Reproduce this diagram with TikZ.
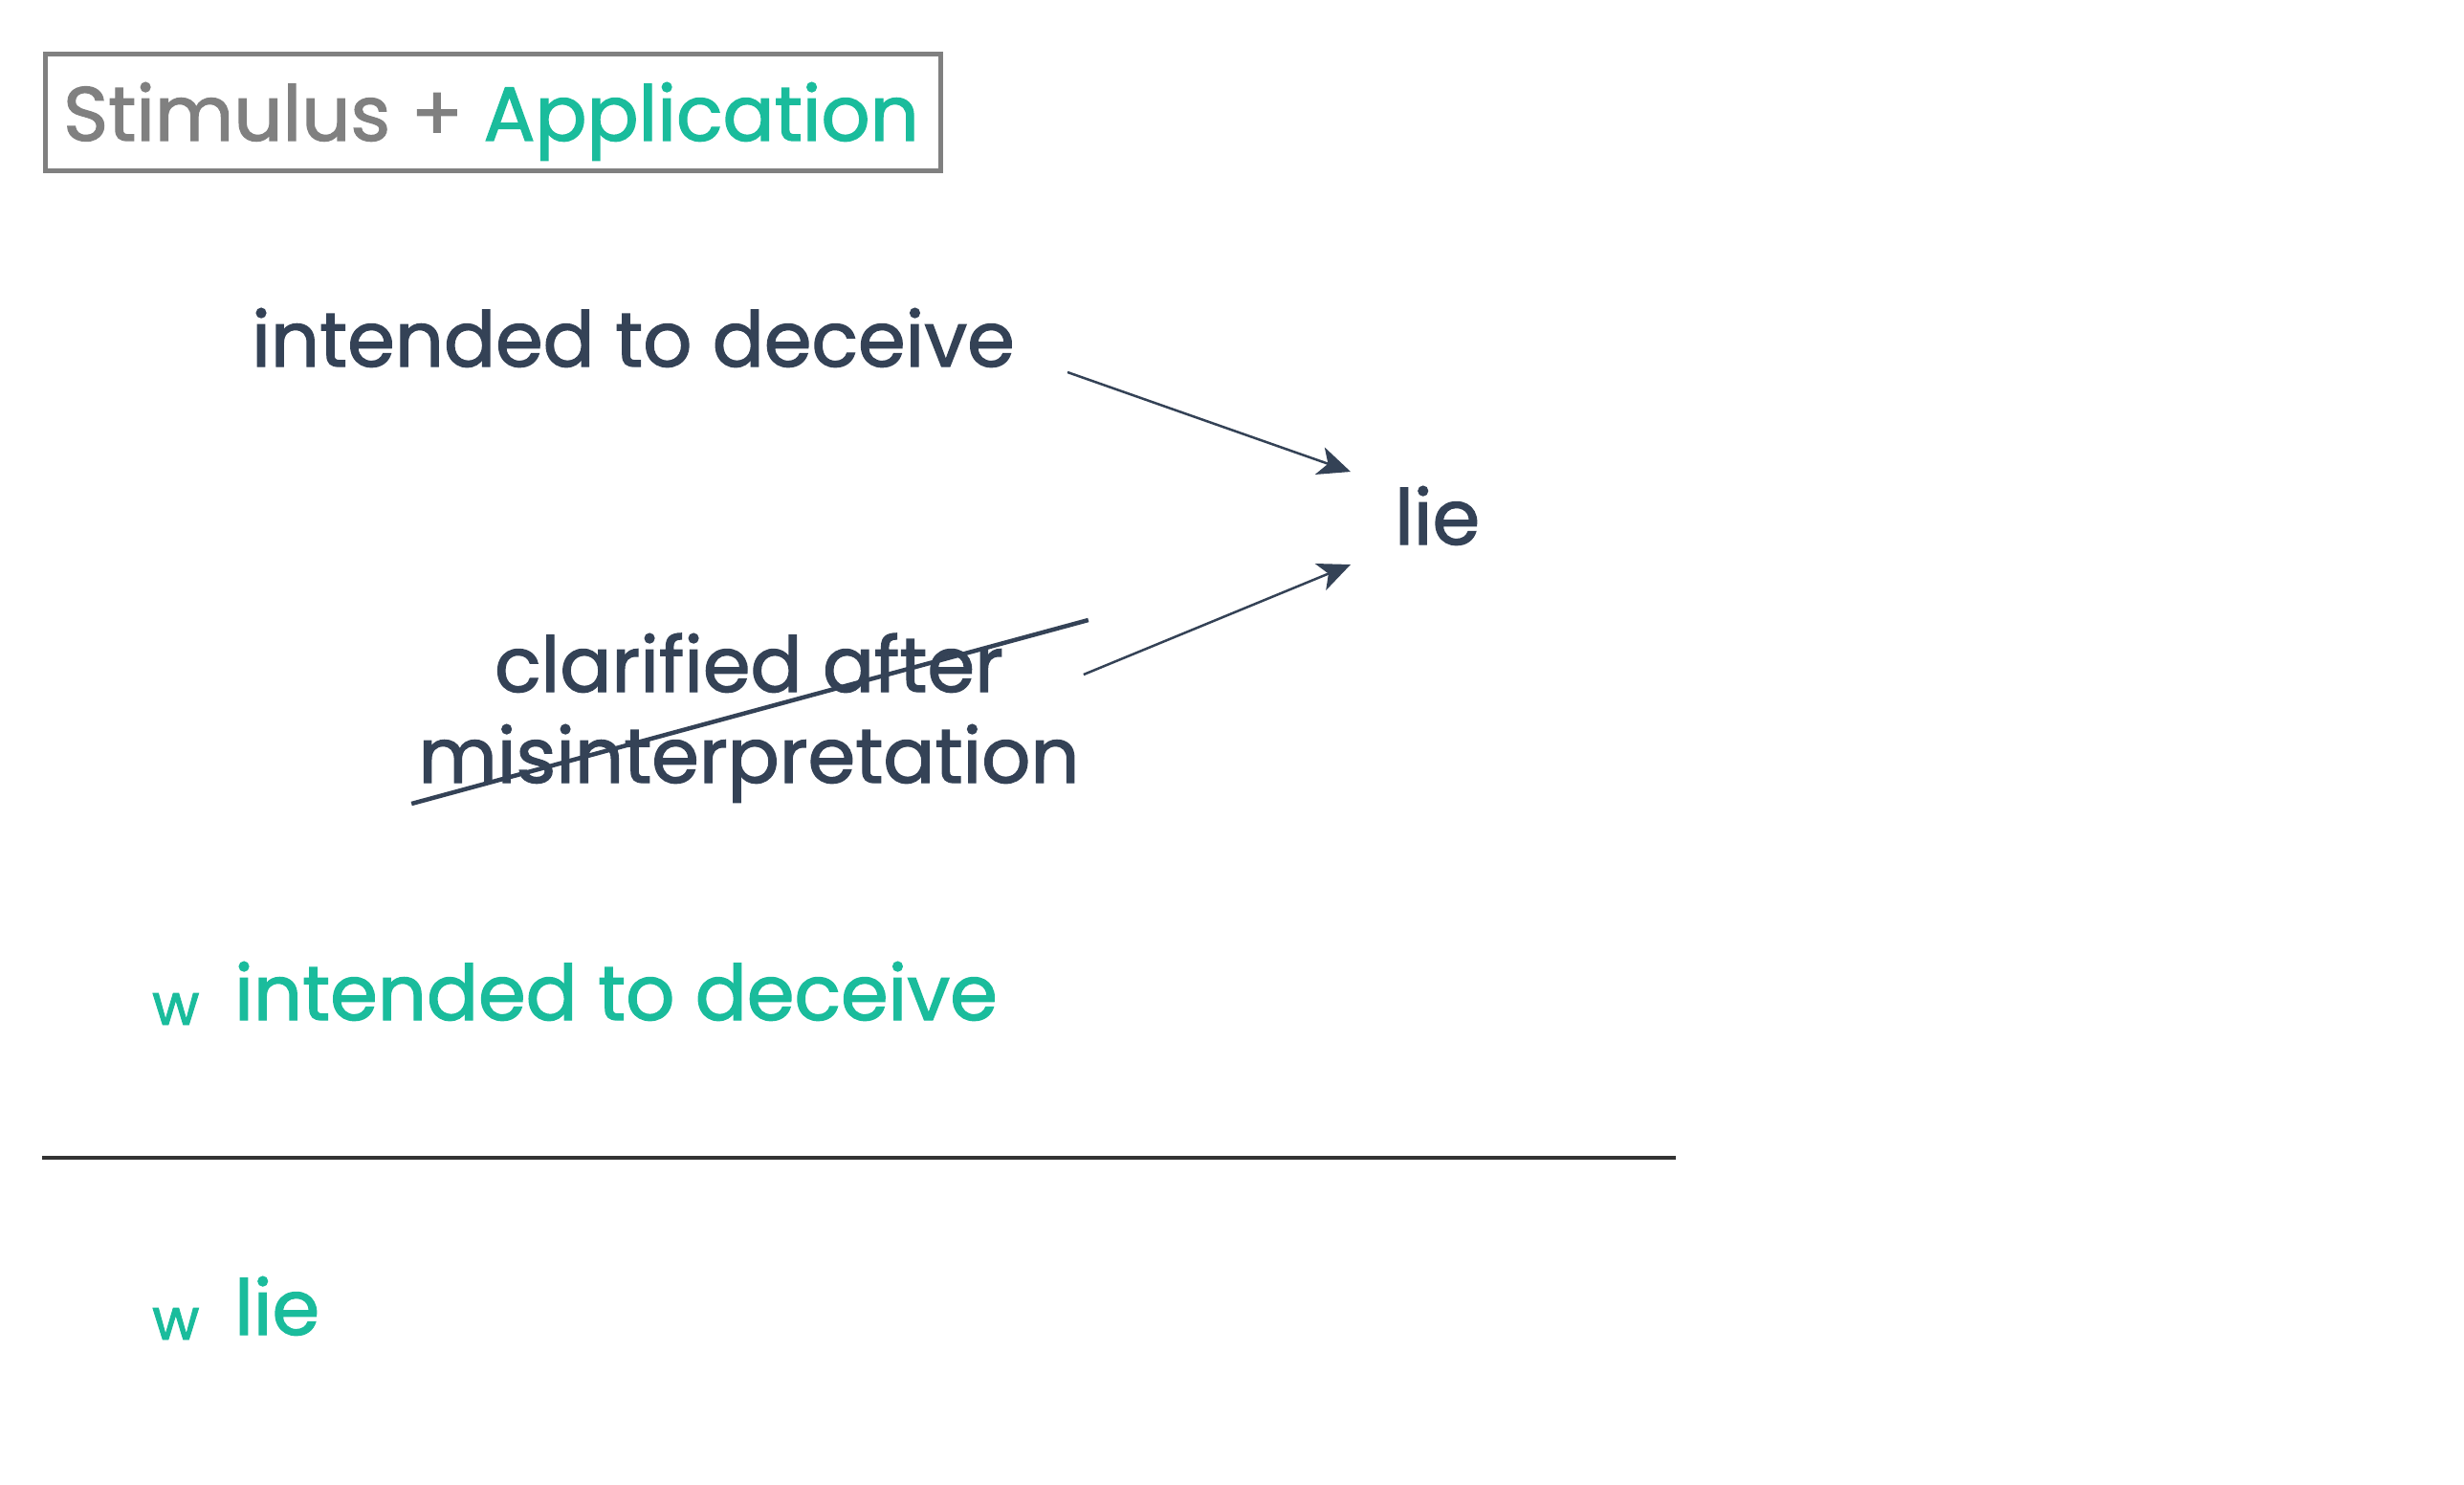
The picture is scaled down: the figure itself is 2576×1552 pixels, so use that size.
\documentclass[tikz,border=0pt]{standalone}
\usepackage{fontspec}
\setmainfont{Poppins}[BoldFont=Poppins, BoldFeatures={FakeBold=1.6}]
\usetikzlibrary{arrows.meta}
\definecolor{ink}{HTML}{344256}
\definecolor{appgreen}{HTML}{1ABC9C}
\definecolor{boxgray}{HTML}{808080}
\definecolor{rulecol}{HTML}{333333}
\begin{document}
\begin{tikzpicture}[x=1pt,y=-1pt,
  txt/.style={inner sep=0pt, anchor=base west, font=\fontsize{80}{95}\selectfont\bfseries, text=ink},
  gtxt/.style={txt, text=appgreen},
  wmark/.style={inner sep=0pt, anchor=base west, font=\fontsize{60}{70}\selectfont\bfseries, text=appgreen},
  arr/.style={draw=ink, line width=2.5pt, -{Stealth[length=34pt, width=30pt, inset=9pt]}},
  strike/.style={draw=ink, line width=4.5pt},
  titlebox/.style={draw=boxgray, line width=5pt}]
\useasboundingbox (0,0) rectangle (2576,1552);
% title
\node[titlebox, inner sep=0pt, minimum width=936pt, minimum height=122pt, anchor=north west] (box) at (45,54) {};
\node[txt, text=boxgray] (title) at (66,147) {Stimulus + \textcolor{appgreen}{Application}};
% upper diagram
\node[txt] (top) at (263,383) {intended to deceive};
\node[txt] (lie) at (1458,569) {lie};
\node[txt, anchor=base, align=center] (clar) at (783,818) {clarified after\\misinterpretation};
\draw[arr] ([shift={(55,6)}]top.base east) -- ([shift={(-46,-76)}]lie.base west);
\draw[arr] ([shift={(4,-113)}]clar.base east) -- ([shift={(-46,21)}]lie.base west);
\draw[strike] ([shift={(-7,22)}]clar.base west) -- ([shift={(9,-170)}]clar.base east);
% bottom
\node[wmark] (w1) at (159,1071) {w};
\node[gtxt] (prem) at (245,1066) {intended to deceive};
\coordinate (rl) at (44,1210);
\coordinate (rr) at (1752,1210);
\draw[draw=rulecol, line width=4pt] (rl) -- (rr);
\node[wmark] (w2) at (159,1400) {w};
\node[gtxt] (concl) at (245,1395) {lie};
\end{tikzpicture}
\end{document}
